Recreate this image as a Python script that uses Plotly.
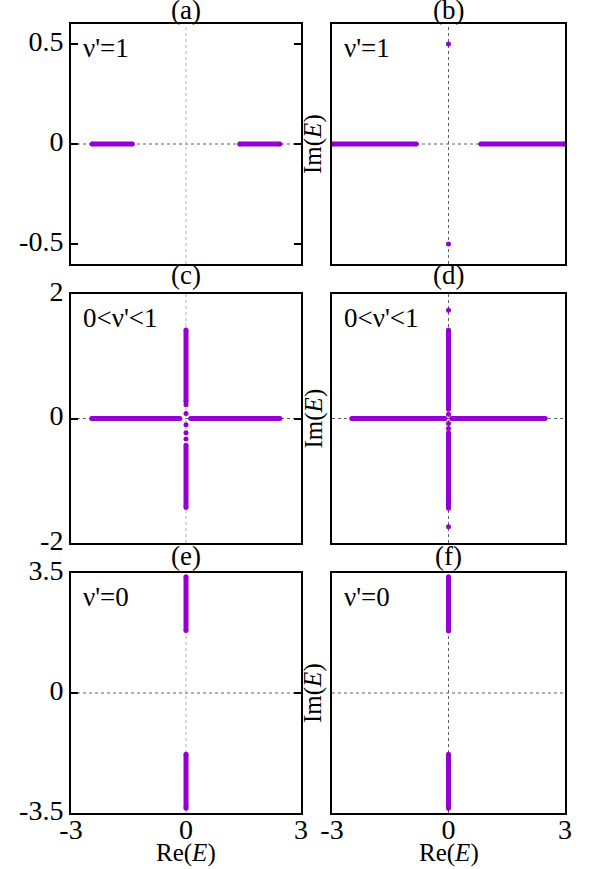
import plotly.graph_objects as go
from plotly.subplots import make_subplots

PURPLE = '#9400d3'
FONT = '"Liberation Serif", "Times New Roman", serif'

### Spectrum pieces (end points of dense bands, isolated eigenvalues) ###
# (a) nu'=1
a_real_bands = [[-2.45, -1.40], [1.40, 2.45]]
# (b) nu'=1
b_real_bands = [[-3.00, -0.83], [0.83, 3.00]]
b_imag_points = [0.50, -0.50]
# (c) 0<nu'<1
c_real_bands = [[-2.46, -0.16], [0.12, 2.45]]
c_imag_bands = [[0.27, 1.42], [-1.43, -0.43]]
c_imag_points = [0.22, 0.08, -0.10, -0.23, -0.33]
# (d) 0<nu'<1
d_real_bands = [[-2.49, -0.09], [0.08, 2.49]]
d_imag_bands = [[0.15, 1.42], [-1.44, -0.23]]
d_imag_points = [1.74, 0.07, -0.08, -0.16, -1.74]
# (e), (f) nu'=0
e_imag_bands = [[1.82, 3.39], [-3.36, -1.79]]
f_imag_bands = [[1.81, 3.39], [-3.36, -1.79]]

panel_labels = ['(a)', '(b)', '(c)', '(d)', '(e)', '(f)']
nu_labels = ["ν'=1", "ν'=1", "0<ν'<1", "0<ν'<1", "ν'=0", "ν'=0"]
y_limits = [0.6, 0.6, 2, 2, 3.5, 3.5]
y_tickvals = [[0.5, 0, -0.5], [0.5, 0, -0.5], [2, 0, -2], [2, 0, -2], [3.5, 0, -3.5], [3.5, 0, -3.5]]
y_ticktext = [['0.5', '0', '-0.5'], ['0.5', '0', '-0.5'], ['2', '0', '-2'], ['2', '0', '-2'],
              ['3.5', '0', '-3.5'], ['3.5', '0', '-3.5']]
x_tickvals = [-3, 0, 3]
x_ticktext = ['-3', '0', '3']

panels = [
    dict(real=a_real_bands, imag=[], pts=[]),
    dict(real=b_real_bands, imag=[], pts=b_imag_points),
    dict(real=c_real_bands, imag=c_imag_bands, pts=c_imag_points),
    dict(real=d_real_bands, imag=d_imag_bands, pts=d_imag_points),
    dict(real=[], imag=e_imag_bands, pts=[]),
    dict(real=[], imag=f_imag_bands, pts=[]),
]

### Layout in page pixels (592 x 869) ###
W, H = 592, 869
col_px = [(71, 301), (332, 565)]
row_px = [(24, 264), (294, 543), (573, 813)]
title_gap = [14, 19, 17]

def px_x(p):
    return p / W

def px_y(p):
    return 1 - p / H

fig = make_subplots(rows=3, cols=2)

def band_trace(x, y):
    return go.Scatter(x=x, y=y, mode='lines+markers',
                      line=dict(color=PURPLE, width=5),
                      marker=dict(color=PURPLE, size=5),
                      showlegend=False, hoverinfo='skip')

for i, p in enumerate(panels):
    r, c = i // 2 + 1, i % 2 + 1
    for lo, hi in p['real']:
        fig.add_trace(band_trace([lo, hi], [0, 0]), row=r, col=c)
    for lo, hi in p['imag']:
        fig.add_trace(band_trace([0, 0], [lo, hi]), row=r, col=c)
    if p['pts']:
        fig.add_trace(go.Scatter(x=[0] * len(p['pts']), y=p['pts'], mode='markers',
                                 marker=dict(color=PURPLE, size=5),
                                 showlegend=False, hoverinfo='skip'), row=r, col=c)

    # dotted axes through the origin
    vcol = '#b0b0b0' if c == 1 else '#606060'
    fig.add_hline(y=0, line=dict(color='#606060', width=1, dash='dot'), layer='below', row=r, col=c)
    fig.add_vline(x=0, line=dict(color=vcol, width=1, dash='dot'), layer='below', row=r, col=c)

    x0, x1 = col_px[c - 1]
    y0, y1 = row_px[r - 1]
    fig.update_xaxes(domain=[px_x(x0), px_x(x1)], range=[-3, 3], automargin=False,
                     showline=True, mirror=True, linecolor='black', linewidth=2,
                     showgrid=False, zeroline=False, ticks='',
                     tickvals=x_tickvals, ticktext=x_ticktext,
                     showticklabels=(r == 3), ticklabelstandoff=-10,
                     tickfont=dict(family=FONT, size=28, color='black'),
                     row=r, col=c)
    fig.update_yaxes(domain=[px_y(y1), px_y(y0)], automargin=False,
                     range=[-y_limits[i], y_limits[i]],
                     showline=True, mirror=('ticks' if c == 1 else True),
                     linecolor='black', linewidth=2,
                     showgrid=False, zeroline=False,
                     ticks=('inside' if c == 1 else ''), ticklen=7, tickwidth=1.5,
                     tickcolor='black',
                     tickvals=y_tickvals[i], ticktext=y_ticktext[i],
                     showticklabels=(c == 1), ticklabelshift=-3,
                     tickfont=dict(family=FONT, size=28, color='black'),
                     row=r, col=c)

    xc = px_x((x0 + x1) / 2)
    # panel letter
    fig.add_annotation(x=xc, y=px_y(y0 - title_gap[r - 1]), xref='paper', yref='paper',
                       text=panel_labels[i], showarrow=False,
                       xanchor='center', yanchor='middle',
                       font=dict(family=FONT, size=27, color='black'))
    # nu' label
    fig.add_annotation(x=px_x(x0 + 10), y=px_y(y0 + 24), xref='paper', yref='paper',
                       text=nu_labels[i], showarrow=False,
                       xanchor='left', yanchor='middle',
                       font=dict(family=FONT, size=27, color='black'))
    # axis labels
    if c == 2:
        fig.add_annotation(x=px_x(313), y=px_y((y0 + y1) / 2), xref='paper', yref='paper',
                           text='Im(<i>E</i>)', showarrow=False, textangle=-90,
                           xanchor='center', yanchor='middle',
                           font=dict(family=FONT, size=25, color='black'))
    if r == 3:
        fig.add_annotation(x=xc, y=px_y(853), xref='paper', yref='paper',
                           text='Re(<i>E</i>)', showarrow=False,
                           xanchor='center', yanchor='middle',
                           font=dict(family=FONT, size=25, color='black'))

fig.update_layout(width=W, height=H,
                  margin=dict(l=0, r=0, t=0, b=0),
                  paper_bgcolor='white', plot_bgcolor='white',
                  showlegend=False)

# drop the browser's default 8px body margin so the figure fills the window
fig.write_html("out.html", config={'displayModeBar': False},
               post_script="document.body.style.margin = '0';")
